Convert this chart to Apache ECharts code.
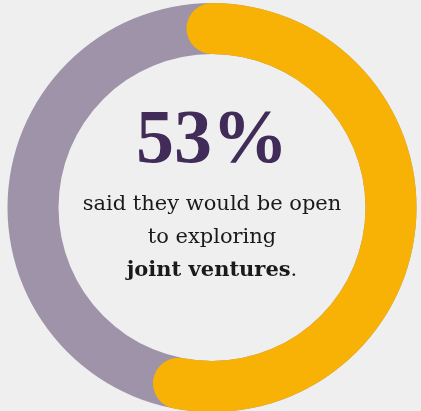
<!DOCTYPE html>
<html>
<head>
<meta charset="utf-8">
<script src="https://cdn.jsdelivr.net/npm/echarts@6/dist/echarts.min.js"></script>
<style>
  html, body { margin: 0; padding: 0; background: #efefef; }
  #chart { width: 421px; height: 411px; }
</style>
</head>
<body>
<div id="chart"></div>
<script>
// Share of respondents open to exploring joint ventures
const shareValue = [53];
const captionLines = ['said they would be open', 'to exploring'];
const captionBold = 'joint ventures';

const chart = echarts.init(document.getElementById('chart'), null, { renderer: 'canvas' });

const cx = 212, cy = 207.5;

chart.setOption({
  backgroundColor: '#efefef',
  animation: false,
  series: [{
    type: 'gauge',
    center: [cx, cy],
    radius: 204.5,
    startAngle: 90,
    endAngle: -270,
    min: 0,
    max: 100,
    pointer: { show: false },
    axisTick: { show: false },
    splitLine: { show: false },
    axisLabel: { show: false },
    axisLine: { lineStyle: { width: 51, color: [[1, '#9e93a8']] } },
    progress: { show: true, width: 51, roundCap: true, itemStyle: { color: '#f7b205' } },
    title: { show: false },
    detail: {
      formatter: '{value}%',
      offsetCenter: [0, -65],
      fontFamily: 'Liberation Serif',
      fontWeight: 'bold',
      fontSize: 76,
      color: '#412b58'
    },
    data: [{ value: shareValue[0] }]
  }],
  graphic: [{
    type: 'text',
    x: cx,
    y: 238,
    style: {
      text: captionLines.join('\n') + '\n{b|' + captionBold + '}.',
      fontFamily: 'DejaVu Serif',
      fontSize: 21,
      lineHeight: 33,
      fill: '#1a1a1a',
      align: 'center',
      verticalAlign: 'middle',
      rich: {
        b: { fontFamily: 'DejaVu Serif', fontWeight: 'bold', fontSize: 21, lineHeight: 33, fill: '#1a1a1a' }
      }
    }
  }]
});
</script>
</body>
</html>
